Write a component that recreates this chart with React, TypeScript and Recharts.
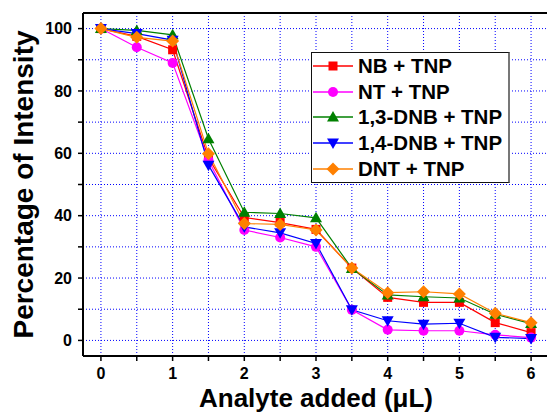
import React from 'react';
import { LineChart, Line, XAxis, YAxis, CartesianGrid, Legend, ReferenceLine } from 'recharts';

const volumes = [0, 0.5, 1, 1.5, 2, 2.5, 3, 3.5, 4, 4.5, 5, 5.5, 6];
const nbTnp = [100, 97.5, 93.2, 58.5, 39.4, 37.8, 35.6, 23.2, 13.8, 12.2, 12.2, 5.7, 2.5];
const ntTnp = [100, 94, 89, 57.8, 35.4, 33, 30, 9.8, 3.4, 3.1, 3.1, 1.8, 0.9];
const dnb13Tnp = [100, 99.4, 98, 64.7, 41.1, 40.7, 39.3, 23.1, 14.6, 14, 13.6, 8.4, 5.4];
const dnb14Tnp = [100, 98.4, 96.3, 56.2, 36.4, 34.5, 31.1, 9.8, 6.3, 5.2, 5.5, 1, 0.6];
const dntTnp = [100, 97.2, 96, 59.9, 37.5, 37.2, 35.4, 23.2, 15.3, 15.6, 14.9, 8.7, 5.7];

const xTicks = [0, 0.5, 1, 1.5, 2, 2.5, 3, 3.5, 4, 4.5, 5, 5.5, 6];
const yTicks = [0, 10, 20, 30, 40, 50, 60, 70, 80, 90, 100];

const data = volumes.map((v, i) => ({
  v,
  nb: nbTnp[i],
  nt: ntTnp[i],
  dnb13: dnb13Tnp[i],
  dnb14: dnb14Tnp[i],
  dnt: dntTnp[i],
}));

const FONT = 'Arial, "Liberation Sans", sans-serif';

// marker shapes
function marker(shape: string, color: string, cx: number, cy: number, key?: any) {
  if (shape === 'square') return <rect key={key} x={cx - 4.5} y={cy - 4.5} width={9} height={9} fill={color} />;
  if (shape === 'circle') return <circle key={key} cx={cx} cy={cy} r={5} fill={color} />;
  if (shape === 'up') return <path key={key} d={`M${cx},${cy - 6} L${cx + 6},${cy + 4.5} L${cx - 6},${cy + 4.5} Z`} fill={color} />;
  if (shape === 'down') return <path key={key} d={`M${cx},${cy + 6} L${cx + 6},${cy - 4.5} L${cx - 6},${cy - 4.5} Z`} fill={color} />;
  return <path key={key} d={`M${cx},${cy - 6.5} L${cx + 6.5},${cy} L${cx},${cy + 6.5} L${cx - 6.5},${cy} Z`} fill={color} />;
}

const series = [
  { key: 'nb', name: 'NB + TNP', color: '#ff0000', shape: 'square' },
  { key: 'nt', name: 'NT + TNP', color: '#ff00ff', shape: 'circle' },
  { key: 'dnb13', name: '1,3-DNB + TNP', color: '#008000', shape: 'up' },
  { key: 'dnb14', name: '1,4-DNB + TNP', color: '#0000ff', shape: 'down' },
  { key: 'dnt', name: 'DNT + TNP', color: '#ff8000', shape: 'diamond' },
];

const LegendBox = () => (
  <div style={{ border: '1.5px solid #111', borderRightColor: '#777', borderRightWidth: 2.5, background: '#fff', padding: '0 6px 0 0', fontFamily: FONT }}>
    {series.map((s) => (
      <div key={s.key} style={{ display: 'flex', alignItems: 'center', height: 25.8 }}>
        <svg width={44} height={20}>
          <line x1={1} y1={10} x2={41} y2={10} stroke={s.color} strokeWidth={1.5} />
          {marker(s.shape, s.color, 21, 10)}
        </svg>
        <span style={{ fontSize: 20.5, fontWeight: 'bold', color: '#000', marginLeft: 2 }}>{s.name}</span>
      </div>
    ))}
  </div>
);

export default function App() {
  return (
    <div style={{ position: 'absolute', left: 0, top: 0, width: 547, height: 414, overflow: 'hidden', background: '#fff' }}>
      <LineChart width={570} height={414} data={data} margin={{ top: 13, right: 21, left: 0, bottom: 0 }}>
        <CartesianGrid stroke="#0000ff" strokeDasharray="1 2" strokeWidth={1} />
        <XAxis
          dataKey="v"
          type="number"
          domain={[-0.25, 6.25]}
          ticks={xTicks}
          allowDecimals
          height={58}
          tickSize={5}
          tickMargin={7}
          interval={0}
          tickFormatter={(t: number) => (Number.isInteger(t) ? String(t) : '')}
          tick={{ fill: '#000', fontSize: 16, fontWeight: 'bold', fontFamily: FONT }}
          axisLine={{ stroke: '#000', strokeWidth: 2 }}
          tickLine={{ stroke: '#000', strokeWidth: 1.5 }}
          label={{ value: 'Analyte added (\u03bcL)', position: 'insideBottom', offset: 7, fill: '#000', fontSize: 26, fontWeight: 'bold', fontFamily: FONT }}
        />
        <YAxis
          type="number"
          domain={[-5, 105]}
          ticks={yTicks}
          width={83}
          tickSize={5}
          tickMargin={6}
          interval={0}
          tickFormatter={(t: number) => (t % 20 === 0 ? String(t) : '')}
          tick={{ fill: '#000', fontSize: 16, fontWeight: 'bold', fontFamily: FONT }}
          axisLine={{ stroke: '#000', strokeWidth: 2 }}
          tickLine={{ stroke: '#000', strokeWidth: 1.5 }}
          label={{ value: 'Percentage of Intensity', angle: -90, position: 'insideLeft', offset: 23, fill: '#000', fontSize: 28, fontWeight: 'bold', fontFamily: FONT, style: { textAnchor: 'middle' } }}
        />
        <ReferenceLine y={105} stroke="#000" strokeWidth={2} />
        <ReferenceLine x={6.25} stroke="#000" strokeWidth={2} />
        {series.map((s) => (
          <Line
            key={s.key}
            type="linear"
            dataKey={s.key}
            name={s.name}
            stroke={s.color}
            strokeWidth={1.2}
            isAnimationActive={false}
            dot={(p: any) => marker(s.shape, s.color, p.cx, p.cy, `${s.key}-${p.index}`)}
            activeDot={false}
          />
        ))}
        <Legend
          layout="vertical"
          align="center"
          verticalAlign="middle"
          content={() => <LegendBox />}
          wrapperStyle={{ left: 311, top: 52, width: 'auto' }}
        />
      </LineChart>
    </div>
  );
}
